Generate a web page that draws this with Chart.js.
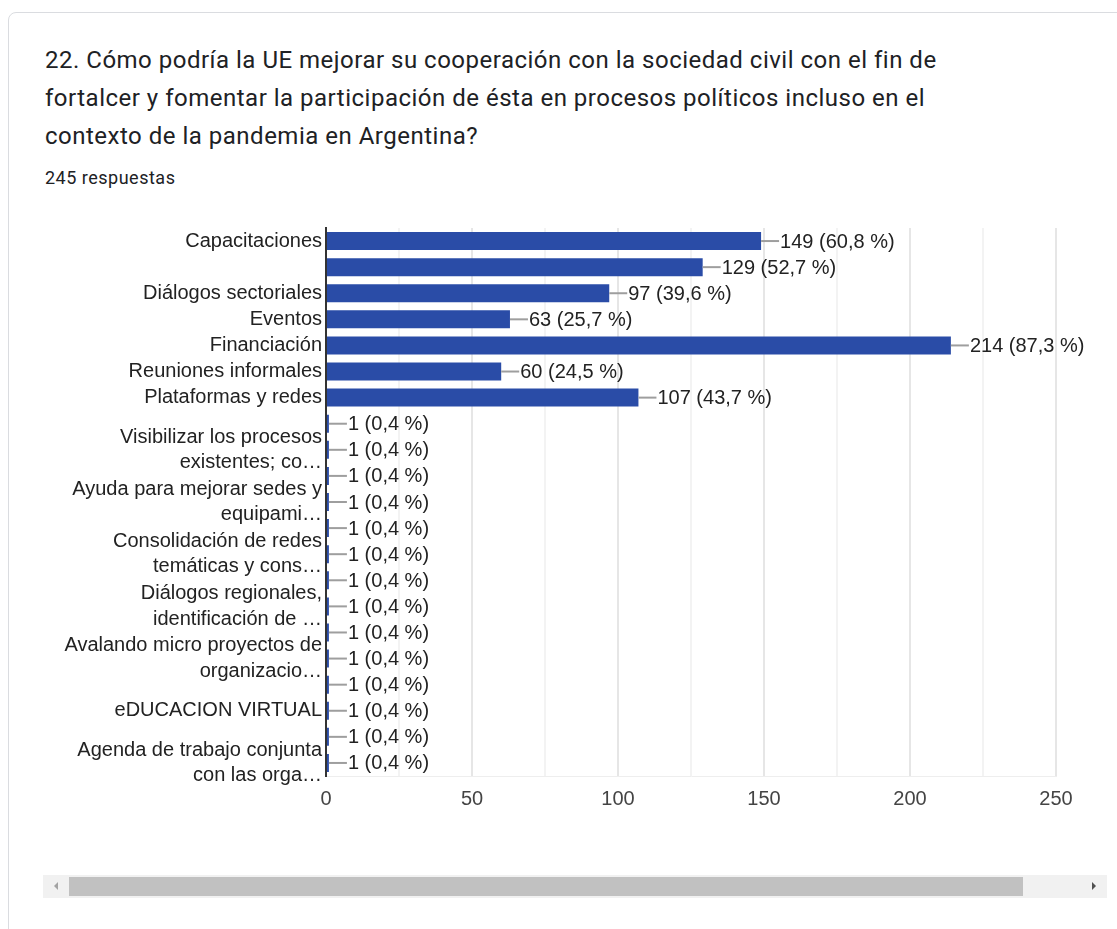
<!DOCTYPE html>
<html>
<head>
<meta charset="utf-8">
<script src="https://cdn.jsdelivr.net/npm/chart.js@4.4.0/dist/chart.umd.min.js"></script>
<style>
  body { margin: 0; background: #fff; overflow: hidden; width: 1117px; height: 929px; position: relative; }
  .card { position: absolute; left: 8px; top: 12px; width: 1200px; height: 1000px; border: 1px solid #dadce0; border-radius: 8px; }
  .title { position: absolute; left: 45px; top: 41px; font-family: Roboto, sans-serif; font-size: 24px; letter-spacing: 0.5px; line-height: 38px; color: #202124; white-space: nowrap; }
  .count { position: absolute; left: 45px; top: 167px; font-family: Roboto, sans-serif; font-size: 18px; letter-spacing: 0.5px; color: #202124; }
  #wrap { position: absolute; left: 43px; top: 218px; width: 1070px; height: 600px; }
  .sbar { position: absolute; left: 43px; top: 875px; width: 1064px; height: 23px; background: #f1f1f1; }
  .thumb { position: absolute; left: 26px; top: 2px; width: 954px; height: 19px; background: #c1c1c1; }
  .arl { position: absolute; left: 11px; top: 7px; width: 0; height: 0; border-top: 4px solid transparent; border-bottom: 4px solid transparent; border-right: 4px solid #a3a3a3; }
  .arr { position: absolute; right: 11px; top: 7px; width: 0; height: 0; border-top: 4px solid transparent; border-bottom: 4px solid transparent; border-left: 4px solid #505050; }
</style>
</head>
<body>
<div class="card"></div>
<div class="title">22. Cómo podría la UE mejorar su cooperación con la sociedad civil con el fin de<br>fortalcer y fomentar la participación de ésta en procesos políticos incluso en el<br>contexto de la pandemia en Argentina?</div>
<div class="count">245 respuestas</div>
<div id="wrap"><canvas id="chart"></canvas></div>
<div class="sbar"><div class="arl"></div><div class="thumb"></div><div class="arr"></div></div>
<script>
// categories (empty ones are labels that the original chart skipped)
var labels = [
  "Capacitaciones",
  "",
  "Diálogos sectoriales",
  "Eventos",
  "Financiación",
  "Reuniones informales",
  "Plataformas y redes",
  "",
  ["Visibilizar los procesos", "existentes; co…"],
  "",
  ["Ayuda para mejorar sedes y", "equipami…"],
  "",
  ["Consolidación de redes", "temáticas y cons…"],
  "",
  ["Diálogos regionales,", "identificación de …"],
  "",
  ["Avalando micro proyectos de", "organizacio…"],
  "",
  "eDUCACION VIRTUAL",
  "",
  ["Agenda de trabajo conjunta", "con las orga…"]
];
var counts = [149, 129, 97, 63, 214, 60, 107, 1, 1, 1, 1, 1, 1, 1, 1, 1, 1, 1, 1, 1, 1];
var percents = ["60,8", "52,7", "39,6", "25,7", "87,3", "24,5", "43,7",
  "0,4", "0,4", "0,4", "0,4", "0,4", "0,4", "0,4", "0,4", "0,4", "0,4", "0,4", "0,4", "0,4", "0,4"];
var xTicks = [0, 50, 100, 150, 200, 250];

var font = "Liberation Sans, Arial, sans-serif";

// value labels with the little grey leader line
var valueLabels = {
  id: 'valueLabels',
  afterDatasetsDraw: function(chart) {
    var ctx = chart.ctx;
    var meta = chart.getDatasetMeta(0);
    ctx.save();
    ctx.font = "20px " + font;
    ctx.textBaseline = "middle";
    ctx.textAlign = "left";
    meta.data.forEach(function(bar, i) {
      ctx.strokeStyle = "#9e9e9e";
      ctx.lineWidth = 2;
      ctx.beginPath();
      ctx.moveTo(bar.x, bar.y);
      ctx.lineTo(bar.x + 18, bar.y);
      ctx.stroke();
      ctx.fillStyle = "#222";
      ctx.fillText(counts[i] + " (" + percents[i] + " %)", bar.x + 19, bar.y + 1);
    });
    ctx.restore();
  }
};

new Chart(document.getElementById("chart"), {
  type: 'bar',
  data: {
    labels: labels,
    datasets: [{
      data: counts,
      backgroundColor: '#2a4ca7',
      borderWidth: 0,
      barPercentage: 0.69,
      categoryPercentage: 1
    }]
  },
  options: {
    indexAxis: 'y',
    responsive: true,
    maintainAspectRatio: false,
    animation: false,
    layout: { autoPadding: false, padding: { top: 10, right: 57, bottom: 0, left: 0 } },
    plugins: { legend: { display: false }, tooltip: { enabled: false } },
    scales: {
      x: {
        min: 0,
        max: 250,
        afterFit: function(s) { s.height = 42; },
        afterBuildTicks: function(s) {
          var t = [];
          for (var i = 0; i < xTicks.length; i++) {
            t.push({ value: xTicks[i] });
            if (i < xTicks.length - 1) t.push({ value: (xTicks[i] + xTicks[i + 1]) / 2 });
          }
          s.ticks = t;
        },
        ticks: {
          autoSkip: false,
          maxRotation: 0,
          padding: 11,
          color: '#444',
          font: { family: font, size: 20 },
          callback: function(v) { return xTicks.indexOf(v) >= 0 ? v : ''; }
        },
        grid: {
          drawTicks: false,
          lineWidth: 2,
          color: function(c) {
            if (!c.tick) return '#eee';
            return xTicks.indexOf(c.tick.value) >= 0 ? '#e6e6e6' : '#f3f3f3';
          }
        },
        border: { color: '#eeeeee', width: 1 }
      },
      y: {
        afterFit: function(s) { s.width = 283; s.paddingTop = 0; s.paddingBottom = 0; },
        ticks: {
          autoSkip: false,
          padding: 4,
          color: '#222',
          font: { family: font, size: 20, lineHeight: 1.27 }
        },
        grid: { display: false, drawTicks: false },
        border: { color: '#333', width: 2 }
      }
    }
  },
  plugins: [valueLabels]
});
</script>
</body>
</html>
